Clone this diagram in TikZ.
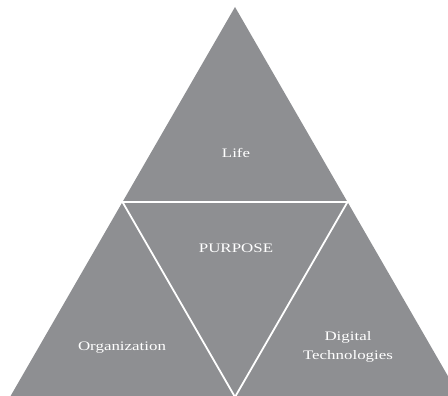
\documentclass[tikz,border=0pt]{standalone}
\usepackage{fontspec}
\setmainfont{Liberation Serif}[FakeStretch=1.3]
\definecolor{pyrgray}{RGB}{142,143,146}
\tikzset{
  lbl/.style={text=white, font=\fontsize{13}{19}\selectfont, align=center, inner sep=0pt},
  sep/.style={draw=white, line width=1.8pt, line join=miter}
}
\begin{document}
\begin{tikzpicture}[x=1pt,y=-1pt]
\useasboundingbox (0,0) rectangle (448,396);
\clip (0,0) rectangle (448,396);
\coordinate (apex) at (235,7);
\coordinate (bl) at (10,397);
\coordinate (br) at (460,397);
\coordinate (m1) at (122.5,202);
\coordinate (m2) at (347.5,202);
\coordinate (m3) at (235,397);
\fill[pyrgray] (apex) -- (bl) -- (br) -- cycle;
\draw[sep] (m1) -- (m2) -- (m3) -- cycle;
\node[lbl] (life) at (236,153) {Life};
\node[lbl] (purpose) at (236,248) {PURPOSE};
\node[lbl] (org) at (122,348) {Organization};
\node[lbl] (dig) at (348,347) {Digital\\Technologies};
\end{tikzpicture}
\end{document}
